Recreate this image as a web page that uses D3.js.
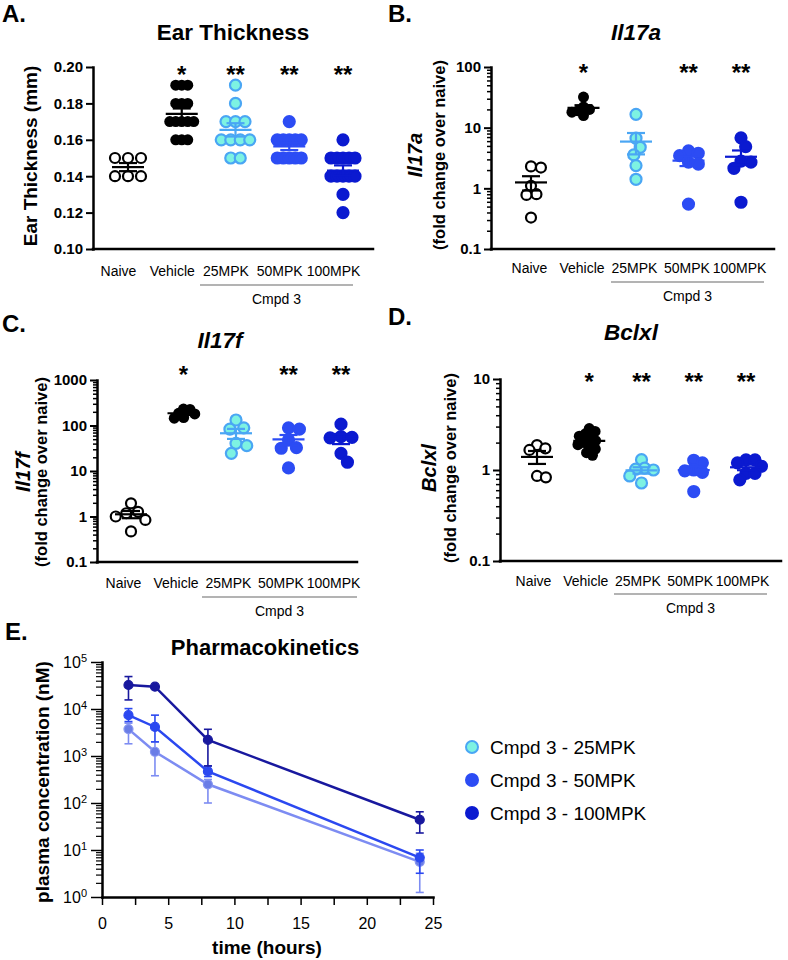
<!DOCTYPE html>
<html>
<head>
<meta charset="utf-8">
<script src="https://cdn.jsdelivr.net/npm/d3@7"></script>
<style>
  body { margin: 0; background: #fff; }
  svg { display: block; font-family: "Liberation Sans", Arial, Helvetica, sans-serif; }
</style>
</head>
<body>
<svg id="fig" width="788" height="960"></svg>
<script>
// ---- data ----
var categories = ["Naive", "Vehicle", "25MPK", "50MPK", "100MPK"];

// A. ear thickness (mm)
var earNaive   = [0.15, 0.15, 0.15, 0.14, 0.14, 0.14];
var earVehicle = [0.19, 0.19, 0.19, 0.18, 0.18, 0.18, 0.17, 0.17, 0.17, 0.17, 0.17, 0.16, 0.16, 0.16];
var ear25      = [0.19, 0.18, 0.17, 0.17, 0.17, 0.16, 0.16, 0.16, 0.16, 0.15, 0.15];
var ear50      = [0.17, 0.16, 0.16, 0.16, 0.16, 0.16, 0.15, 0.15, 0.15, 0.15, 0.15];
var ear100     = [0.16, 0.15, 0.15, 0.15, 0.15, 0.15, 0.14, 0.14, 0.14, 0.14, 0.14, 0.13, 0.12];
var earStars   = ["", "*", "**", "**", "**"];

// B. Il17a fold change
var il17aNaive   = [2.3, 2.2, 1.1, 0.8, 0.78, 0.33];
var il17aVehicle = [32, 22, 20, 19, 18, 15.8];
var il17a25      = [16.6, 6.7, 4.75, 3.55, 2.37, 1.41];
var il17a50      = [4.13, 3.79, 3.46, 2.7, 2.5, 0.55];
var il17a100     = [6.8, 4.86, 2.8, 2.7, 2.14, 0.59];
var il17aStars   = ["", "*", "", "**", "**"];

// C. Il17f fold change
var il17fNaive   = [1.95, 1.27, 1.18, 1.0, 0.84, 0.47];
var il17fVehicle = [230, 225, 185, 180, 150, 145];
var il17f25      = [132, 89, 83, 40.6, 36, 24.5];
var il17f50      = [89, 83, 48, 32.6, 31.6, 11.7];
var il17f100     = [107, 57, 55, 53.5, 24.5, 15.6];
var il17fStars   = ["", "*", "", "**", "**"];

// D. Bclxl fold change
var bclNaive   = [1.88, 1.73, 1.66, 0.86, 0.83];
var bclVehicle = [2.85, 2.65, 2.5, 2.35, 2.2, 2.1, 2.0, 1.9, 1.8, 1.7, 1.55, 1.45];
var bcl25      = [1.3, 1.05, 1.02, 1.0, 0.86, 0.72];
var bcl50      = [1.28, 1.2, 1.0, 0.98, 0.94, 0.58];
var bcl100     = [1.29, 1.29, 1.2, 1.1, 0.92, 0.92, 0.78];
var bclStars   = ["", "*", "**", "**", "**"];

// E. pharmacokinetics, plasma concentration (nM)
var pkTime  = [2, 4, 8, 24];
var pk25    = [3740, 1230, 250, 5.6];
var pk25Lo  = [1820, 380, 100, 1.25];
var pk25Hi  = [5000, 2000, 316, 8.5];
var pk50    = [7400, 4150, 470, 6.9];
var pk50Lo  = [5400, 2000, 365, 3.2];
var pk50Hi  = [10200, 7400, 615, 10];
var pk100   = [32400, 29800, 2200, 44];
var pk100Lo = [15600, 28000, 615, 23];
var pk100Hi = [49000, 31500, 3700, 65];
var pkNames = ["Cmpd 3 - 25MPK", "Cmpd 3 - 50MPK", "Cmpd 3 - 100MPK"];

// colours
var c25Fill = "#7df2e2", c25Stroke = "#4aa6f4", c50 = "#2c4cf4", c100 = "#0b1ad0";
var styles = [
  {fill: "#fff", stroke: "#000", line: "#000"},
  {fill: "#000", stroke: "#000", line: "#000"},
  {fill: c25Fill, stroke: c25Stroke, line: c25Stroke},
  {fill: c50, stroke: c50, line: c50},
  {fill: c100, stroke: c100, line: c100}
];
// horizontal spacing of equal values in panel A
var rowSpacing = [13, 6, 9.5, 6, 6];

var svg = d3.select("#fig");

function rowLayout(vals, y, sp) {
  var out = [];
  d3.group(vals, function(v) { return v; }).forEach(function(arr, v) {
    arr.forEach(function(d, j) {
      out.push({v: v, py: y(v), dx: (j - (arr.length - 1) / 2) * sp});
    });
  });
  return out;
}

function swarmLayout(vals, y, dist) {
  var pts = vals.map(function(v) { return {v: v, py: y(v), dx: 0}; })
    .sort(function(a, b) { return a.py - b.py; });
  var placed = [];
  pts.forEach(function(p) {
    var cands = [0];
    placed.forEach(function(q) {
      var dy = p.py - q.py;
      if (Math.abs(dy) < dist) {
        var h = Math.sqrt(dist * dist - dy * dy);
        cands.push(q.dx + h, q.dx - h);
      }
    });
    cands.sort(function(a, b) { return Math.abs(a) - Math.abs(b); });
    p.dx = cands.find(function(c) {
      return placed.every(function(q) { return Math.hypot(c - q.dx, p.py - q.py) >= dist - 0.01; });
    });
    placed.push(p);
  });
  return pts;
}

function dotPanel(cfg) {
  var g = svg.append("g");
  var y = (cfg.log ? d3.scaleLog() : d3.scaleLinear())
    .domain(cfg.domain).range([cfg.bottom, cfg.top]);
  var x = d3.scalePoint().domain(categories).range(cfg.catRange);

  // letter + title
  g.append("text").attr("x", cfg.letter[0]).attr("y", cfg.letter[1])
    .attr("font-size", 24).attr("font-weight", "bold").text(cfg.letterText);
  g.append("text").attr("x", cfg.title[0]).attr("y", cfg.title[1])
    .attr("text-anchor", "middle").attr("font-size", 22.5).attr("font-weight", "bold")
    .attr("font-style", cfg.titleItalic ? "italic" : null).text(cfg.titleText);

  // y labels
  cfg.yLabels.forEach(function(l) {
    g.append("text").attr("transform", "translate(" + l.x + "," + cfg.yLabelY + ") rotate(-90)")
      .attr("text-anchor", "middle").attr("font-size", l.size).attr("font-weight", "bold")
      .attr("font-style", l.italic ? "italic" : null).text(l.text);
  });

  // minor ticks (log axes)
  if (cfg.log) {
    var minor = y.ticks().filter(function(d) { return Math.abs(Math.log10(d) - Math.round(Math.log10(d))) > 1e-6; });
    g.append("g").attr("transform", "translate(" + cfg.left + ",0)")
      .call(d3.axisLeft(y).tickValues(minor).tickFormat("").tickSize(4).tickSizeOuter(0))
      .call(function(a) { a.select(".domain").remove(); a.selectAll("line").attr("stroke-width", 1.5); });
  }

  var ya = g.append("g").attr("transform", "translate(" + cfg.left + ",0)")
    .call(d3.axisLeft(y).tickValues(cfg.ticks).tickFormat(cfg.fmt).tickSize(7).tickSizeOuter(0).tickPadding(3))
    .attr("font-family", null).attr("font-size", 15).attr("font-weight", "bold");
  ya.select(".domain").attr("stroke-width", 2.5).attr("stroke-linecap", "square");
  ya.selectAll(".tick line").attr("stroke-width", 2);
  ya.selectAll(".tick text").attr("fill", "#000");

  // x axis line
  g.append("line").attr("x1", cfg.left).attr("x2", cfg.right)
    .attr("y1", cfg.bottom).attr("y2", cfg.bottom)
    .attr("stroke", "#000").attr("stroke-width", 2.5).attr("stroke-linecap", "square");

  var xa = g.append("g").attr("transform", "translate(0," + cfg.bottom + ")")
    .call(d3.axisBottom(x).tickSize(0).tickPadding(cfg.labelPad))
    .attr("font-family", null).attr("font-size", 14);
  xa.select(".domain").remove();
  xa.selectAll("text").attr("fill", "#000").attr("dx", cfg.labelDx);

  // Cmpd 3 bracket
  g.append("line").attr("x1", cfg.bracket[0]).attr("x2", cfg.bracket[1])
    .attr("y1", cfg.bracketY).attr("y2", cfg.bracketY)
    .attr("stroke", "#9a9a9a").attr("stroke-width", 1.5);
  g.append("text").attr("x", (cfg.bracket[0] + cfg.bracket[1]) / 2).attr("y", cfg.bracketY + 19)
    .attr("text-anchor", "middle").attr("font-size", 14).text("Cmpd 3");

  // points and mean +/- SEM
  cfg.groups.forEach(function(vals, i) {
    var st = styles[i];
    var cx = x(categories[i]);
    var pts = cfg.log ? swarmLayout(vals, y, i === 1 ? 6.5 : cfg.swarm) : rowLayout(vals, y, rowSpacing[i]);
    g.append("g").selectAll("circle").data(pts).enter().append("circle")
      .attr("cx", function(d) { return cx + d.dx; })
      .attr("cy", function(d) { return d.py; })
      .attr("r", i === 0 ? 5 : 5.5)
      .attr("fill", st.fill).attr("stroke", st.stroke).attr("stroke-width", i === 1 ? 0 : 2.2);

    var m = d3.mean(vals), s = d3.deviation(vals) / Math.sqrt(vals.length);
    var sg = g.append("g").attr("stroke", st.line).attr("stroke-width", 2.2);
    sg.append("line").attr("x1", cx - 16).attr("x2", cx + 16).attr("y1", y(m)).attr("y2", y(m));
    sg.append("line").attr("x1", cx).attr("x2", cx).attr("y1", y(m - s)).attr("y2", y(m + s));
    [m - s, m + s].forEach(function(v) {
      sg.append("line").attr("x1", cx - 9).attr("x2", cx + 9).attr("y1", y(v)).attr("y2", y(v));
    });

    if (cfg.stars[i]) {
      g.append("text").attr("x", cx).attr("y", cfg.starY).attr("text-anchor", "middle")
        .attr("font-size", 24).attr("font-weight", "bold").text(cfg.stars[i]);
    }
  });
}

var logFmt = d3.format("~g");

dotPanel({
  letterText: "A.", letter: [2, 22], titleText: "Ear Thickness", title: [233, 40],
  left: 93, right: 373, top: 67, bottom: 249, catRange: [128, 343],
  domain: [0.10, 0.20], ticks: [0.10, 0.12, 0.14, 0.16, 0.18, 0.20], fmt: d3.format(".2f"),
  yLabels: [{text: "Ear Thickness (mm)", x: 37, size: 19}], yLabelY: 156,
  labelPad: 17, labelDx: -10, bracket: [200, 353], bracketY: 285, starY: 83,
  groups: [earNaive, earVehicle, ear25, ear50, ear100], stars: earStars
});

dotPanel({
  letterText: "B.", letter: [388, 22], titleText: "Il17a", titleItalic: true, title: [636, 40],
  left: 491, right: 774, top: 67, bottom: 249, catRange: [531, 741], log: true, swarm: 10,
  domain: [0.1, 100], ticks: [0.1, 1, 10, 100], fmt: logFmt,
  yLabels: [{text: "Il17a", x: 422, size: 20, italic: true}, {text: "(fold change over naive)", x: 445, size: 16.5}],
  yLabelY: 155, labelPad: 14, labelDx: -2, bracket: [611, 764], bracketY: 282, starY: 81,
  groups: [il17aNaive, il17aVehicle, il17a25, il17a50, il17a100], stars: il17aStars
});

dotPanel({
  letterText: "C.", letter: [2, 332], titleText: "Il17f", titleItalic: true, title: [220, 348],
  left: 97, right: 357, top: 380, bottom: 562, catRange: [131, 341], log: true, swarm: 11,
  domain: [0.1, 1000], ticks: [0.1, 1, 10, 100, 1000], fmt: logFmt,
  yLabels: [{text: "Il17f", x: 30, size: 20, italic: true}, {text: "(fold change over naive)", x: 47, size: 16.5}],
  yLabelY: 472, labelPad: 16, labelDx: -8, bracket: [202, 357], bracketY: 597, starY: 383,
  groups: [il17fNaive, il17fVehicle, il17f25, il17f50, il17f100], stars: il17fStars
});

dotPanel({
  letterText: "D.", letter: [388, 325], titleText: "Bclxl", titleItalic: true, title: [631, 340],
  left: 500, right: 781, top: 379, bottom: 561, catRange: [537, 746], log: true, swarm: 9,
  domain: [0.1, 10], ticks: [0.1, 1, 10], fmt: logFmt,
  yLabels: [{text: "Bclxl", x: 436, size: 20, italic: true}, {text: "(fold change over naive)", x: 456, size: 16.5}],
  yLabelY: 468, labelPad: 15, labelDx: -4, bracket: [614, 767], bracketY: 594, starY: 390,
  groups: [bclNaive, bclVehicle, bcl25, bcl50, bcl100], stars: bclStars
});

// ---- E. Pharmacokinetics ----
var gE = svg.append("g");
var xE = d3.scaleLinear().domain([0, 25]).range([102, 433]);
var yE = d3.scaleLog().domain([1, 1e5]).range([897, 662]);

gE.append("text").attr("x", 5).attr("y", 640).attr("font-size", 24).attr("font-weight", "bold").text("E.");
gE.append("text").attr("x", 265).attr("y", 655).attr("text-anchor", "middle")
  .attr("font-size", 22).attr("font-weight", "bold").text("Pharmacokinetics");
gE.append("text").attr("transform", "translate(49,782) rotate(-90)").attr("text-anchor", "middle")
  .attr("font-size", 19).attr("font-weight", "bold").text("plasma concentration (nM)");
gE.append("text").attr("x", 267).attr("y", 954).attr("text-anchor", "middle")
  .attr("font-size", 19).attr("font-weight", "bold").text("time (hours)");

var minorE = yE.ticks().filter(function(d) { return Math.abs(Math.log10(d) - Math.round(Math.log10(d))) > 1e-6; });
gE.append("g").attr("transform", "translate(102,0)")
  .call(d3.axisLeft(yE).tickValues(minorE).tickFormat("").tickSize(6).tickSizeOuter(0))
  .call(function(a) { a.select(".domain").remove(); a.selectAll("line").attr("stroke-width", 1.2); });

var yaE = gE.append("g").attr("transform", "translate(102,0)")
  .call(d3.axisLeft(yE).tickValues([1, 10, 100, 1e3, 1e4, 1e5]).tickFormat("").tickSize(11).tickSizeOuter(0).tickPadding(4))
  .attr("font-family", null).attr("font-size", 16);
yaE.select(".domain").attr("stroke-width", 2.5).attr("stroke-linecap", "square");
yaE.selectAll(".tick line").attr("stroke-width", 1.5);
yaE.selectAll(".tick text").attr("fill", "#000")
  .each(function(d) {
    var t = d3.select(this);
    t.text("10");
    t.append("tspan").attr("dy", "-0.5em").attr("font-size", 11).text(Math.round(Math.log10(d)));
  });

var xaE = gE.append("g").attr("transform", "translate(0,897)")
  .call(d3.axisBottom(xE).tickValues(d3.range(0, 25.1, 2.5))
    .tickFormat(function(d) { return d % 5 === 0 ? d : ""; }).tickSize(8).tickSizeOuter(0).tickPadding(13))
  .attr("font-family", null).attr("font-size", 16);
xaE.select(".domain").attr("stroke-width", 2.5).attr("stroke-linecap", "square");
xaE.selectAll(".tick line").attr("stroke-width", 1.5);
xaE.selectAll(".tick text").attr("fill", "#000");

var pkSeries = [
  {mean: pk25, lo: pk25Lo, hi: pk25Hi, line: "#7d8cf2", fill: "#6a7de6", stroke: "#8796f0"},
  {mean: pk50, lo: pk50Lo, hi: pk50Hi, line: "#2b48f0", fill: "#2b48f0", stroke: "#2b48f0"},
  {mean: pk100, lo: pk100Lo, hi: pk100Hi, line: "#18189e", fill: "#18189e", stroke: "#18189e"}
];
var lineE = d3.line().x(function(d) { return xE(d[0]); }).y(function(d) { return yE(d[1]); });

pkSeries.forEach(function(s) {
  var sg = gE.append("g");
  var eb = sg.append("g").attr("stroke", s.line).attr("stroke-width", 1.6);
  pkTime.forEach(function(t, i) {
    var px = xE(t);
    eb.append("line").attr("x1", px).attr("x2", px).attr("y1", yE(s.lo[i])).attr("y2", yE(s.hi[i]));
    [s.lo[i], s.hi[i]].forEach(function(v) {
      eb.append("line").attr("x1", px - 4).attr("x2", px + 4).attr("y1", yE(v)).attr("y2", yE(v));
    });
  });
  sg.append("path").datum(d3.zip(pkTime, s.mean)).attr("d", lineE)
    .attr("fill", "none").attr("stroke", s.line).attr("stroke-width", 2.5);
  sg.selectAll("circle").data(d3.zip(pkTime, s.mean)).enter().append("circle")
    .attr("cx", function(d) { return xE(d[0]); }).attr("cy", function(d) { return yE(d[1]); })
    .attr("r", 4.5).attr("fill", s.fill).attr("stroke", s.stroke).attr("stroke-width", 1.2);
});

// legend
var legStyles = [
  {fill: c25Fill, stroke: c25Stroke},
  {fill: c50, stroke: c50},
  {fill: c100, stroke: c100}
];
var leg = gE.append("g").attr("transform", "translate(472,747)");
pkNames.forEach(function(name, i) {
  leg.append("circle").attr("cx", 0).attr("cy", i * 33).attr("r", 6)
    .attr("fill", legStyles[i].fill).attr("stroke", legStyles[i].stroke).attr("stroke-width", 2);
  leg.append("text").attr("x", 18).attr("y", i * 33 + 7).attr("font-size", 19).text(name);
});
</script>
</body>
</html>
